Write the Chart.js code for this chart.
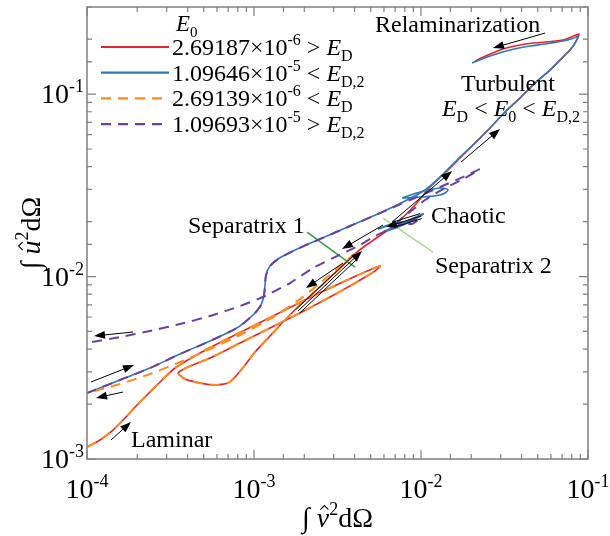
<!DOCTYPE html>
<html>
<head>
<meta charset="utf-8">
<script src="https://cdn.jsdelivr.net/npm/chart.js@4.4.1/dist/chart.umd.min.js"></script>
<style>
  html, body { margin: 0; padding: 0; background: #fff; }
</style>
</head>
<body>
<canvas id="phase" width="610" height="536"></canvas>
<script>
// x: ∫ v̂² dΩ , y: ∫ û² dΩ  (values along each trajectory)

// E0 = 2.69187e-6 : laminar branch, loop, separatrix 1, turbulent burst, relaminarization
const redV = [
  1.00e-4, 1.196e-4, 1.431e-4, 1.689e-4, 1.993e-4, 2.384e-4, 2.813e-4, 3.365e-4,
  4.75e-4, 6.70e-4, 1.014e-3, 1.533e-3, 2.319e-3, 3.507e-3, 4.621e-3, 5.682e-3,
  5.303e-3, 4.026e-3, 2.852e-3, 1.885e-3, 1.247e-3, 8.25e-4, 5.452e-4, 4.138e-4, 3.507e-4,
  3.862e-4, 4.75e-4, 5.84e-4, 6.99e-4,
  7.80e-4, 8.84e-4, 1.014e-3, 1.247e-3, 1.533e-3, 1.885e-3, 2.485e-3, 3.273e-3, 4.139e-3,
  5.089e-3, 6.345e-3, 7.488e-3, 9.208e-3, 1.132e-2, 1.392e-2, 1.712e-2, 2.106e-2, 2.590e-2,
  3.184e-2, 3.915e-2, 4.815e-2, 5.923e-2, 6.988e-2, 7.804e-2, 8.362e-2, 8.833e-2,
  8.475e-2, 7.085e-2, 5.528e-2, 4.685e-2, 3.656e-2, 3.097e-2, 2.519e-2, 2.106e-2
];
const redU = [
  1.163e-3, 1.271e-3, 1.441e-3, 1.678e-3, 1.977e-3, 2.328e-3, 2.710e-3, 3.152e-3,
  3.809e-3, 4.489e-3, 5.423e-3, 6.553e-3, 7.919e-3, 9.448e-3, 1.058e-2, 1.141e-2,
  1.072e-2, 9.213e-3, 7.721e-3, 6.310e-3, 5.222e-3, 4.322e-3, 3.576e-3, 3.233e-3, 2.960e-3,
  2.744e-3, 2.609e-3, 2.544e-3, 2.609e-3,
  2.850e-3, 3.274e-3, 3.857e-3, 4.721e-3, 5.776e-3, 6.980e-3, 8.760e-3, 1.113e-2, 1.362e-2,
  1.565e-2, 1.798e-2, 2.040e-2, 2.465e-2, 3.094e-2, 3.692e-2, 4.460e-2, 5.389e-2, 6.512e-2,
  7.970e-2, 9.508e-2, 1.149e-1, 1.354e-1, 1.575e-1, 1.742e-1, 1.903e-1, 2.133e-1,
  2.106e-1, 1.977e-1, 1.927e-1, 1.903e-1, 1.833e-1, 1.764e-1, 1.636e-1, 1.516e-1
];

// E0 = 1.09646e-5 : rises through the S-bend straight into turbulence
const blueV = [
  1.00e-4, 1.576e-4, 2.384e-4, 3.605e-4, 5.452e-4, 7.70e-4, 8.84e-4, 1.014e-3, 1.101e-3,
  1.148e-3, 1.164e-3, 1.180e-3, 1.247e-3, 1.392e-3, 1.712e-3, 2.485e-3, 3.757e-3, 5.682e-3,
  8.023e-3, 1.057e-2, 1.336e-2, 1.665e-2, 2.106e-2, 2.590e-2, 3.184e-2, 3.915e-2, 4.815e-2,
  5.923e-2, 6.988e-2, 7.804e-2, 8.362e-2, 8.712e-2,
  8.247e-2, 7.085e-2, 5.528e-2, 4.495e-2, 3.412e-2, 2.590e-2, 2.020e-2
];
const blueU = [
  2.299e-3, 2.710e-3, 3.152e-3, 3.761e-3, 4.432e-3, 5.157e-3, 5.633e-3, 6.310e-3, 6.980e-3,
  7.919e-3, 8.984e-3, 1.019e-2, 1.141e-2, 1.247e-2, 1.380e-2, 1.605e-2, 1.891e-2, 2.228e-2,
  2.592e-2, 2.979e-2, 3.599e-2, 4.404e-2, 5.389e-2, 6.512e-2, 7.970e-2, 9.508e-2, 1.149e-1,
  1.354e-1, 1.575e-1, 1.742e-1, 1.903e-1, 2.079e-1,
  2.027e-1, 1.952e-1, 1.879e-1, 1.833e-1, 1.742e-1, 1.615e-1, 1.479e-1
];
// short blue excursions around the chaotic saddle
const blueKnotV = [5.528e-3, 6.705e-3, 8.023e-3, 6.989e-3, 6.087e-3, 7.488e-3, 9.208e-3, 1.028e-2, 8.594e-3, 6.705e-3];
const blueKnotU = [1.821e-2, 1.940e-2, 1.989e-2, 1.844e-2, 1.776e-2, 1.891e-2, 2.066e-2, 2.200e-2, 2.040e-2, 1.821e-2];
const blueLoopV = [7.696e-3, 9.862e-3, 1.300e-2, 1.451e-2, 1.300e-2, 9.862e-3, 7.696e-3];
const blueLoopU = [2.692e-2, 2.904e-2, 3.054e-2, 2.979e-2, 2.797e-2, 2.727e-2, 2.692e-2];

// E0 = 2.69139e-6 : same start as red, turns back at separatrix 1
const orangeV = [
  1.00e-4, 1.196e-4, 1.431e-4, 1.689e-4, 1.993e-4, 2.384e-4, 2.813e-4, 3.365e-4,
  4.75e-4, 6.70e-4, 1.014e-3, 1.533e-3, 2.319e-3, 3.507e-3, 4.621e-3, 5.682e-3,
  5.303e-3, 4.026e-3, 2.852e-3, 1.885e-3, 1.247e-3, 8.25e-4, 5.452e-4, 4.138e-4, 3.507e-4,
  3.862e-4, 4.75e-4, 5.84e-4, 6.99e-4,
  7.80e-4, 8.84e-4, 1.014e-3, 1.247e-3, 1.533e-3, 1.885e-3, 2.485e-3, 3.273e-3, 4.139e-3,
  3.273e-3, 2.485e-3, 1.885e-3, 1.247e-3, 8.25e-4, 5.452e-4, 3.605e-4, 2.384e-4, 1.576e-4, 1.00e-4
];
const orangeU = [
  1.163e-3, 1.271e-3, 1.441e-3, 1.678e-3, 1.977e-3, 2.328e-3, 2.710e-3, 3.152e-3,
  3.809e-3, 4.489e-3, 5.423e-3, 6.553e-3, 7.919e-3, 9.448e-3, 1.058e-2, 1.141e-2,
  1.072e-2, 9.213e-3, 7.721e-3, 6.310e-3, 5.222e-3, 4.322e-3, 3.576e-3, 3.233e-3, 2.960e-3,
  2.744e-3, 2.609e-3, 2.544e-3, 2.609e-3,
  2.850e-3, 3.274e-3, 3.857e-3, 4.721e-3, 5.776e-3, 6.980e-3, 8.760e-3, 1.113e-2, 1.362e-2,
  1.141e-2, 9.213e-3, 7.529e-3, 5.850e-3, 4.781e-3, 4.006e-3, 3.400e-3, 2.923e-3, 2.576e-3, 2.299e-3
];

// E0 = 1.09693e-5 : follows blue to the chaotic saddle, then decays
const purpleV = [
  1.00e-4, 1.576e-4, 2.384e-4, 3.605e-4, 5.452e-4, 7.70e-4, 8.84e-4, 1.014e-3, 1.101e-3,
  1.148e-3, 1.164e-3, 1.180e-3, 1.247e-3, 1.392e-3, 1.712e-3, 2.485e-3, 3.757e-3, 5.682e-3,
  8.594e-3, 1.300e-2, 1.834e-2, 2.256e-2, 1.834e-2, 1.392e-2, 1.057e-2, 8.594e-3, 7.284e-3,
  8.833e-3, 9.862e-3, 8.023e-3, 6.52e-3, 5.303e-3, 4.313e-3, 3.055e-3, 2.256e-3, 1.643e-3,
  1.132e-3, 8.25e-4, 5.452e-4, 3.605e-4, 2.384e-4, 1.576e-4, 1.00e-4
];
const purpleU = [
  2.299e-3, 2.710e-3, 3.152e-3, 3.761e-3, 4.432e-3, 5.157e-3, 5.633e-3, 6.310e-3, 6.980e-3,
  7.919e-3, 8.984e-3, 1.019e-2, 1.141e-2, 1.247e-2, 1.380e-2, 1.605e-2, 1.891e-2, 2.228e-2,
  2.626e-2, 3.094e-2, 3.553e-2, 3.881e-2, 3.465e-2, 3.054e-2, 2.626e-2, 2.256e-2, 1.989e-2,
  1.940e-2, 2.092e-2, 1.989e-2, 1.821e-2, 1.667e-2, 1.488e-2, 1.279e-2, 1.113e-2, 9.213e-3,
  7.721e-3, 6.893e-3, 6.076e-3, 5.492e-3, 5.028e-3, 4.661e-3, 4.322e-3
];

// separatrix markers
const sep1V = [2.077e-3, 4.026e-3];
const sep1U = [1.753e-2, 1.127e-2];
const sep2V = [5.923e-3, 1.180e-2];
const sep2U = [2.092e-2, 1.362e-2];

// direction arrows: [tailV, tailU, headV, headU, shafts]
const arrows = [
  [1.886e-4, 4.965e-3, 1.101e-4, 4.721e-3, 1],
  [1.057e-4, 2.642e-3, 1.911e-4, 3.274e-3, 1],
  [1.643e-4, 2.328e-3, 1.132e-4, 2.159e-3, 1],
  [1.392e-4, 1.271e-3, 1.834e-4, 1.595e-3, 1],
  [5.528e-2, 2.159e-1, 2.699e-2, 1.787e-1, 1],
  [1.736e-2, 4.241e-2, 2.972e-2, 6.430e-2, 1],
  [6.705e-3, 1.989e-2, 1.533e-2, 3.785e-2, 1],
  [5.923e-3, 1.915e-2, 3.365e-3, 1.415e-2, 1],
  [3.412e-3, 1.186e-2, 2.048e-3, 8.650e-3, 1],
  [1.834e-3, 6.471e-3, 4.434e-3, 1.380e-2, 3],
  [1.000e-2, 2.145e-2, 6.172e-3, 1.867e-2, 3]
];

const RED = '#e8232b', BLUE = '#2b7bba', ORANGE = '#ff8b1f', PURPLE = '#6c3fa2';
const SERIF = "'Liberation Serif', 'Times New Roman', serif";

const zip = (xs, ys) => xs.map((x, i) => ({ x, y: ys[i] }));

function path(data, color, order, extra) {
  return Object.assign({
    data, borderColor: color, borderWidth: 1.6, showLine: true,
    pointRadius: 0, tension: 0.2, fill: false, order,
  }, extra || {});
}

// ---- text helpers (sub/superscripts, italics, hats) ----
function fontOf(r) {
  return (r.italic ? 'italic ' : '') + r.size + 'px ' + SERIF;
}
function drawRuns(ctx, x, y, runs, align) {
  let total = 0;
  runs.forEach(r => { ctx.font = fontOf(r); r.w = ctx.measureText(r.t).width; total += r.w; });
  let cx = align === 'center' ? x - total / 2 : align === 'right' ? x - total : x;
  ctx.textAlign = 'left';
  ctx.textBaseline = 'alphabetic';
  runs.forEach(r => {
    ctx.font = fontOf(r);
    ctx.fillText(r.t, cx, y + (r.dy || 0));
    if (r.hat) {
      const mx = cx + r.w / 2 + 1.5, top = y - r.size * 0.62;
      ctx.beginPath();
      ctx.lineWidth = 1.1;
      ctx.moveTo(mx - 4, top);
      ctx.lineTo(mx, top - 4);
      ctx.lineTo(mx + 4, top);
      ctx.stroke();
    }
    cx += r.w;
  });
}
const T = (t, size, o) => Object.assign({ t, size }, o || {});

function drawArrow(ctx, x1, y1, x2, y2, shafts) {
  const a = Math.atan2(y2 - y1, x2 - x1);
  const c = Math.cos(a), s = Math.sin(a);
  const len = 11, half = 4;
  ctx.lineWidth = 1;
  for (let k = 0; k < shafts; k++) {
    const off = (k - (shafts - 1) / 2) * 2.6;
    ctx.beginPath();
    ctx.moveTo(x1 - s * off, y1 + c * off);
    ctx.lineTo(x2 - c * len * 0.7 - s * off, y2 - s * len * 0.7 + c * off);
    ctx.stroke();
  }
  ctx.beginPath();
  ctx.moveTo(x2, y2);
  ctx.lineTo(x2 - c * len - s * half, y2 - s * len + c * half);
  ctx.lineTo(x2 - c * len + s * half, y2 - s * len - c * half);
  ctx.closePath();
  ctx.fill();
}

const isDecade = v => Math.abs(Math.log10(v) - Math.round(Math.log10(v))) < 1e-6;

const decor = {
  id: 'decor',
  afterDatasetsDraw(chart) {
    const ctx = chart.ctx, a = chart.chartArea;
    const sx = chart.scales.x, sy = chart.scales.y;
    ctx.save();

    // frame + inward ticks
    ctx.strokeStyle = '#808080';
    ctx.lineWidth = 1.5;
    ctx.strokeRect(a.left, a.top, a.right - a.left, a.bottom - a.top);
    ctx.lineWidth = 1.2;
    sx.ticks.forEach(t => {
      const px = sx.getPixelForValue(t.value), L = isDecade(t.value) ? 9 : 5;
      ctx.beginPath();
      ctx.moveTo(px, a.bottom); ctx.lineTo(px, a.bottom - L);
      ctx.moveTo(px, a.top); ctx.lineTo(px, a.top + L);
      ctx.stroke();
    });
    sy.ticks.forEach(t => {
      const py = sy.getPixelForValue(t.value), L = isDecade(t.value) ? 9 : 5;
      ctx.beginPath();
      ctx.moveTo(a.left, py); ctx.lineTo(a.left + L, py);
      ctx.moveTo(a.right, py); ctx.lineTo(a.right - L, py);
      ctx.stroke();
    });

    // tick labels 10^n
    ctx.fillStyle = '#000';
    ctx.strokeStyle = '#000';
    sx.ticks.filter(t => isDecade(t.value)).forEach(t => {
      const e = Math.round(Math.log10(t.value));
      drawRuns(ctx, sx.getPixelForValue(t.value), 498,
        [T('10', 28), T(String(e), 18, { dy: -11 })], 'center');
    });
    sy.ticks.filter(t => isDecade(t.value)).forEach(t => {
      const e = Math.round(Math.log10(t.value));
      drawRuns(ctx, 84, sy.getPixelForValue(t.value) + 9,
        [T('10', 28), T(String(e), 18, { dy: -11 })], 'right');
    });

    // axis titles
    drawRuns(ctx, (a.left + a.right) / 2, 527,
      [T('\u222B ', 28), T('v', 28, { italic: true, hat: true }), T('2', 18, { dy: -12 }), T('d\u03A9', 28)], 'center');
    ctx.save();
    ctx.translate(40, (a.top + a.bottom) / 2);
    ctx.rotate(-Math.PI / 2);
    drawRuns(ctx, 0, 0,
      [T('\u222B ', 28), T('u', 28, { italic: true, hat: true }), T('2', 18, { dy: -12 }), T('d\u03A9', 28)], 'center');
    ctx.restore();

    // arrows
    ctx.fillStyle = '#000';
    ctx.strokeStyle = '#000';
    arrows.forEach(r => {
      drawArrow(ctx, sx.getPixelForValue(r[0]), sy.getPixelForValue(r[1]),
        sx.getPixelForValue(r[2]), sy.getPixelForValue(r[3]), r[4]);
    });

    // annotations
    drawRuns(ctx, 375, 32, [T('Relaminarization', 24)], 'left');
    drawRuns(ctx, 508, 91, [T('Turbulent', 24)], 'center');
    drawRuns(ctx, 511, 116, [
      T('E', 24, { italic: true }), T('D', 16, { dy: 6 }), T(' < ', 24),
      T('E', 24, { italic: true }), T('0', 16, { dy: 6 }), T(' < ', 24),
      T('E', 24, { italic: true }), T('D,2', 16, { dy: 6 })
    ], 'center');
    drawRuns(ctx, 188, 233, [T('Separatrix 1', 24)], 'left');
    drawRuns(ctx, 431, 223, [T('Chaotic', 24)], 'left');
    drawRuns(ctx, 435, 273, [T('Separatrix 2', 24)], 'left');
    drawRuns(ctx, 131, 447, [T('Laminar', 24)], 'left');

    // legend
    drawRuns(ctx, 176, 31, [T('E', 23, { italic: true }), T('0', 15, { dy: 6 })], 'left');
    const rows = [
      [0, '2.69187\u00D710', '-6', ' > ', 'D'],
      [1, '1.09646\u00D710', '-5', ' < ', 'D,2'],
      [4, '2.69139\u00D710', '-6', ' < ', 'D'],
      [5, '1.09693\u00D710', '-5', ' > ', 'D,2']
    ];
    rows.forEach((r, i) => {
      const ds = chart.data.datasets[r[0]];
      const y = 47 + i * 25.7;
      ctx.save();
      ctx.strokeStyle = ds.borderColor;
      ctx.lineWidth = 2.2;
      ctx.setLineDash(ds.borderDash || []);
      ctx.beginPath();
      ctx.moveTo(101, y); ctx.lineTo(169, y);
      ctx.stroke();
      ctx.restore();
      drawRuns(ctx, 172, y + 8, [
        T(r[1], 24), T(r[2], 16, { dy: -10 }), T(r[3], 24),
        T('E', 24, { italic: true }), T(r[4], 16, { dy: 6 })
      ], 'left');
    });

    ctx.restore();
  }
};

new Chart(document.getElementById('phase'), {
  type: 'scatter',
  data: {
    datasets: [
      path(zip(redV, redU), RED, 4),
      path(zip(blueV, blueU), BLUE, 3),
      path(zip(blueKnotV, blueKnotU), BLUE, 3, { borderWidth: 2.2 }),
      path(zip(blueLoopV, blueLoopU), BLUE, 3, { tension: 0.4 }),
      path(zip(orangeV, orangeU), ORANGE, 2, { borderWidth: 2, borderDash: [10, 7] }),
      path(zip(purpleV, purpleU), PURPLE, 1, { borderWidth: 2, borderDash: [10, 7] }),
      path(zip(sep1V, sep1U), '#3d9e3d', 6, { borderWidth: 1.6, tension: 0 }),
      path(zip(sep2V, sep2U), '#a9dc8f', 6, { borderWidth: 1.6, tension: 0 })
    ]
  },
  options: {
    responsive: false,
    animation: false,
    devicePixelRatio: 1,
    layout: { padding: { left: 87, right: 22, top: 7, bottom: 77 } },
    plugins: { legend: { display: false }, tooltip: { enabled: false } },
    scales: {
      x: { type: 'logarithmic', min: 1e-4, max: 0.1, display: false, ticks: { autoSkip: false } },
      y: { type: 'logarithmic', min: 1e-3, max: 0.3, display: false, ticks: { autoSkip: false } }
    }
  },
  plugins: [decor]
});
</script>
</body>
</html>
